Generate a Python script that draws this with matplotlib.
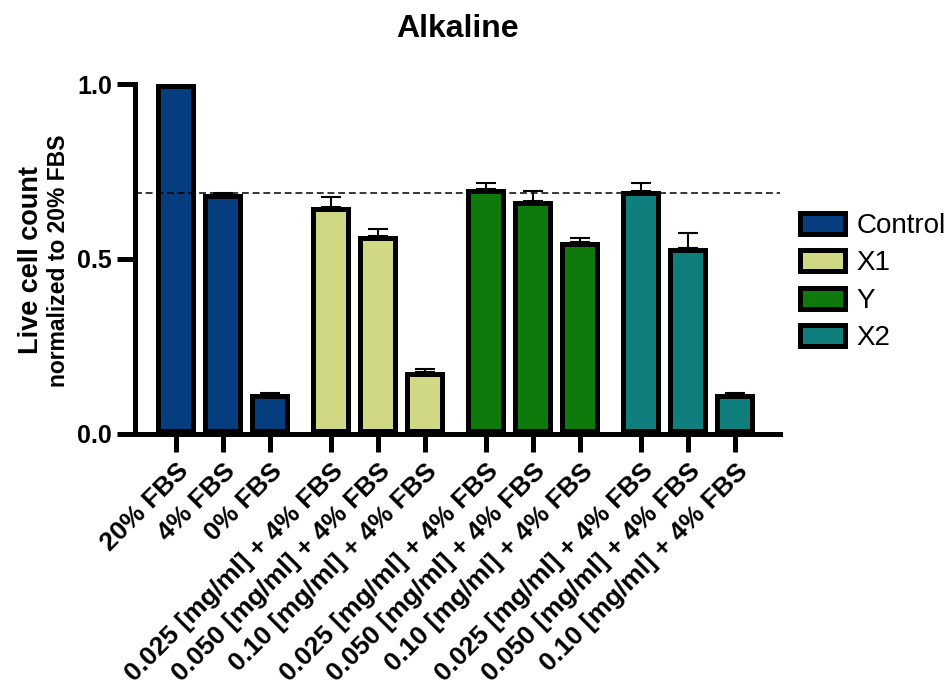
import matplotlib.pyplot as plt
from matplotlib.patches import Patch

plt.rcParams['font.family'] = ['Liberation Sans', 'DejaVu Sans']

groups = ['Control', 'X1', 'Y', 'X2']
colors = ['#063d7e', '#d1d883', '#0f7a0c', '#0f7f7e']

labels = ['20% FBS', '4% FBS', '0% FBS',
          '0.025 [mg/ml] + 4% FBS', '0.050 [mg/ml] + 4% FBS', '0.10 [mg/ml] + 4% FBS',
          '0.025 [mg/ml] + 4% FBS', '0.050 [mg/ml] + 4% FBS', '0.10 [mg/ml] + 4% FBS',
          '0.025 [mg/ml] + 4% FBS', '0.050 [mg/ml] + 4% FBS', '0.10 [mg/ml] + 4% FBS']

control_mean = [1.0, 0.686, 0.114]
control_err = [0.003, 0.003, 0.003]
x1_mean = [0.649, 0.566, 0.178]
x1_err = [0.029, 0.019, 0.007]
y_mean = [0.700, 0.666, 0.549]
y_err = [0.017, 0.029, 0.011]
x2_mean = [0.695, 0.531, 0.114]
x2_err = [0.023, 0.043, 0.004]

reference_line = 0.688

means = [control_mean, x1_mean, y_mean, x2_mean]
errs = [control_err, x1_err, y_err, x2_err]

fig = plt.figure(figsize=(9.5, 6.87), dpi=100)
ax = fig.add_axes([0.1421, 0.3683, 0.679, 0.5094])

group_step = 3.3
for g, (m, e, c) in enumerate(zip(means, errs, colors)):
    xs = [g * group_step + i for i in range(len(m))]
    ax.errorbar(xs, m, yerr=[[0] * len(e), e], fmt='none', ecolor='black',
                elinewidth=1.5, capsize=7.5, capthick=1.5, zorder=1)
    bars = ax.bar(xs, m, width=0.85, color=c, edgecolor='black', linewidth=7.2, zorder=2)
    # keep the border inside each bar
    for b in bars:
        b.set_clip_path(b)

ax.axhline(reference_line, color='black', linestyle='--', linewidth=1.1,
           dashes=(4.5, 2.5), zorder=3)

positions = [g * group_step + i for g in range(4) for i in range(3)]
ax.set_xticks(positions)
ax.set_xticklabels(labels, rotation=45, ha='right', rotation_mode='anchor',
                   fontsize=19, fontweight='bold')
ax.set_xlim(-0.872, 12.85)
ax.set_ylim(0, 1.0)
ax.set_yticks([0.0, 0.5, 1.0])
ax.set_yticklabels(['0.0', '0.5', '1.0'], fontsize=18, fontweight='bold')

for side in ['top', 'right']:
    ax.spines[side].set_visible(False)
for side in ['left', 'bottom']:
    ax.spines[side].set_linewidth(3.6)
    ax.spines[side].set_capstyle('projecting')
ax.tick_params(axis='both', length=13, width=3.6)
ax.tick_params(axis='y', pad=3.5)
ax.tick_params(axis='x', pad=5)

ax.set_title('Alkaline', fontsize=23, fontweight='bold', pad=34)

fig.text(0.033, 0.621, 'Live cell count', rotation=90, fontsize=19.5,
         fontweight='bold', ha='center', va='center')
fig.text(0.062, 0.621, 'normalized to 20% FBS', rotation=90, fontsize=16.5,
         fontweight='bold', ha='center', va='center')

handles = [Patch(facecolor=c, edgecolor='black', linewidth=3.6, label=g)
           for g, c in zip(groups, colors)]
fig.legend(handles=handles, loc='upper left', bbox_to_anchor=(0.8416, 0.690),
           frameon=False, fontsize=20, handlelength=1.65, handleheight=0.79,
           labelspacing=0.4, handletextpad=0.4, borderaxespad=0, borderpad=0)

fig.savefig('out.png', dpi=100)
